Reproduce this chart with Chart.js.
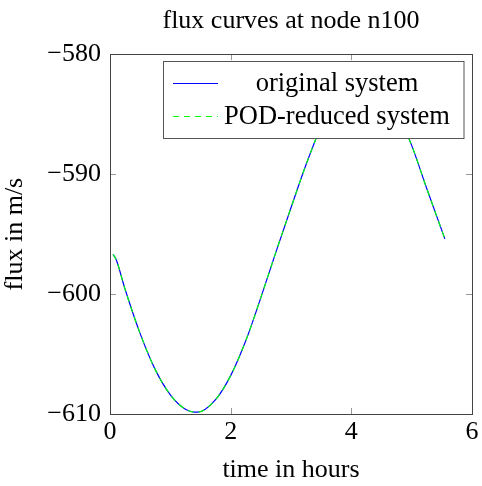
<!DOCTYPE html>
<html>
<head>
<meta charset="utf-8">
<script src="https://cdn.jsdelivr.net/npm/chart.js@4/dist/chart.umd.min.js"></script>
<style>
html,body{margin:0;padding:0;background:#fff;}
#wrap{width:482px;height:486px;position:relative;}
</style>
</head>
<body>
<div id="wrap"><canvas id="c" width="482" height="486"></canvas></div>
<script>
// ---- data ----
const chartTitle = "flux curves at node n100";
const xTitle = "time in hours";
const yTitle = "flux in m/s";
const seriesNames = ["original system", "POD-reduced system"];
const seriesColors = ["#0000ff", "#00ff00"];
const times = [0.05, 0.1, 0.25, 0.5, 0.75, 1.0, 1.25, 1.45, 1.75, 2.0, 2.25, 2.5, 2.75, 3.0, 3.25, 3.5, 3.75, 4.0, 4.2, 4.4, 4.6, 4.8, 5.0, 5.25, 5.55];
const originalValues = [-596.7, -597.1, -599.6, -603.3, -606.3, -608.4, -609.6, -609.85, -608.8, -606.8, -603.9, -600.3, -596.5, -592.8, -589.2, -586.0, -583.5, -581.9, -581.3, -581.7, -583.2, -585.3, -587.6, -591.2, -595.4];
const podValues = [-596.7, -597.1, -599.6, -603.3, -606.3, -608.4, -609.6, -609.85, -608.8, -606.8, -603.9, -600.3, -596.5, -592.8, -589.2, -586.0, -583.5, -581.9, -581.3, -581.7, -583.2, -585.3, -587.6, -591.2, -595.4];
const xTicks = [0, 2, 4, 6];
const yTicks = [-610, -600, -590, -580];

const FONT = "'Liberation Serif', 'Times New Roman', serif";
const toPts = (vals) => vals.map((v, i) => ({x: times[i], y: v}));

const framePlugin = {
  id: 'frame',
  beforeDatasetsDraw(chart) {
    const {ctx, chartArea: a, scales} = chart;
    ctx.save();
    ctx.strokeStyle = '#999';
    ctx.lineWidth = 1;
    const L = 6;
    ctx.beginPath();
    xTicks.forEach(t => {
      const px = Math.round(scales.x.getPixelForValue(t)) + 0.5;
      ctx.moveTo(px, a.bottom); ctx.lineTo(px, a.bottom - L);
      ctx.moveTo(px, a.top); ctx.lineTo(px, a.top + L);
    });
    yTicks.forEach(t => {
      const py = Math.round(scales.y.getPixelForValue(t)) + 0.5;
      ctx.moveTo(a.left, py); ctx.lineTo(a.left + L, py);
      ctx.moveTo(a.right, py); ctx.lineTo(a.right - L, py);
    });
    ctx.stroke();
    ctx.strokeStyle = '#444';
    ctx.strokeRect(Math.round(a.left) + 0.5, Math.round(a.top) + 0.5, Math.round(a.right - a.left), Math.round(a.bottom - a.top));
    ctx.restore();
  },
  afterDatasetsDraw(chart) {
    const {ctx} = chart;
    ctx.save();
    const bx = 163.5, by = 61.5, bw = 300.5, bh = 77;
    ctx.fillStyle = '#fff';
    ctx.fillRect(bx, by, bw, bh);
    ctx.strokeStyle = '#555';
    ctx.lineWidth = 1;
    ctx.strokeRect(bx, by, bw, bh);
    const rows = [83.5, 116.5];
    const dashes = [[], [6, 5]];
    rows.forEach((ry, i) => {
      ctx.strokeStyle = seriesColors[i];
      ctx.lineWidth = 1.2;
      ctx.setLineDash(dashes[i]);
      ctx.beginPath();
      ctx.moveTo(173, ry); ctx.lineTo(218, ry);
      ctx.stroke();
      ctx.setLineDash([]);
      ctx.fillStyle = '#000';
      ctx.font = '26.5px ' + FONT;
      ctx.textAlign = 'center';
      ctx.textBaseline = 'middle';
      ctx.fillText(seriesNames[i], 337, ry + 1);
    });
    ctx.restore();
  }
};

new Chart(document.getElementById('c'), {
  type: 'line',
  data: {
    datasets: [
      {label: seriesNames[1], data: toPts(podValues), borderColor: seriesColors[1], borderWidth: 1.2, borderDash: [6, 5], pointRadius: 0, cubicInterpolationMode: 'monotone', fill: false, order: 0},
      {label: seriesNames[0], data: toPts(originalValues), borderColor: seriesColors[0], borderWidth: 1.2, pointRadius: 0, cubicInterpolationMode: 'monotone', fill: false, order: 1}
    ]
  },
  options: {
    responsive: false,
    animation: false,
    devicePixelRatio: 1,
    layout: {padding: {top: 0, left: 0, right: 10, bottom: 0}},
    plugins: {
      legend: {display: false},
      tooltip: {enabled: false},
      title: {display: true, fullSize: false, text: chartTitle, color: '#000', font: {family: FONT, size: 26, weight: 'normal'}, padding: {top: 6, bottom: 17}}
    },
    scales: {
      x: {
        type: 'linear', min: 0, max: 6,
        afterBuildTicks: (s) => { s.ticks = xTicks.map(v => ({value: v})); },
        ticks: {color: '#000', font: {family: FONT, size: 26}, padding: 3, maxRotation: 0},
        grid: {display: false, drawTicks: false},
        border: {display: false},
        title: {display: true, text: xTitle, color: '#000', font: {family: FONT, size: 26}, padding: {top: 0, bottom: 0}},
        afterFit: (s) => { s.height = 72; }
      },
      y: {
        type: 'linear', min: -610, max: -580,
        afterBuildTicks: (s) => { s.ticks = yTicks.map(v => ({value: v})); },
        ticks: {color: '#000', font: {family: FONT, size: 26}, padding: 9, callback: (v) => String(v).replace('-', '\u2212')},
        grid: {display: false, drawTicks: false},
        border: {display: false},
        title: {display: true, text: yTitle, color: '#000', font: {family: FONT, size: 26}, padding: {top: 0, bottom: 0}},
        afterFit: (s) => { s.width = 110; }
      }
    }
  },
  plugins: [framePlugin]
});
</script>
</body>
</html>
